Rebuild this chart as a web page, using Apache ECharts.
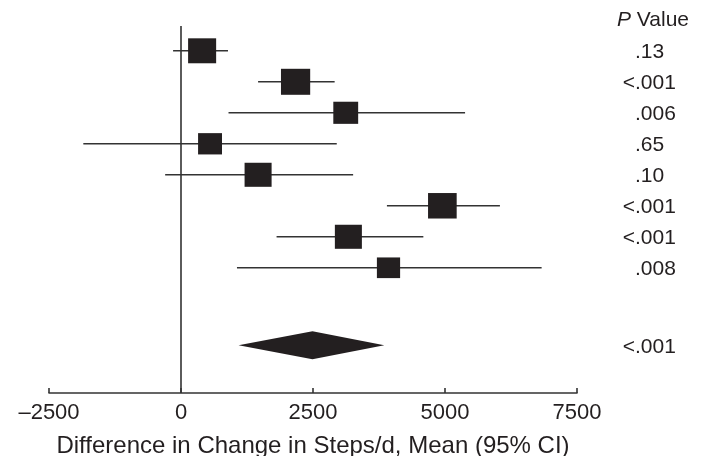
<!DOCTYPE html>
<html><head><meta charset="utf-8">
<script src="https://cdn.jsdelivr.net/npm/echarts@6/dist/echarts.min.js"></script>
<style>html,body{margin:0;padding:0;background:#fff}#c{width:705px;height:456px}</style>
</head><body><div id="c"></div>
<script>
// Study rows (top to bottom)
const rows = [1, 2, 3, 4, 5, 6, 7, 8];
const means = [400, 2170, 3120, 550, 1460, 4950, 3170, 3930];
const lows = [-150, 1460, 900, -1850, -300, 3900, 1810, 1060];
const highs = [890, 2910, 5380, 2950, 3260, 6040, 4590, 6830];
const weights = [70, 76, 55, 51, 65, 73, 65, 48];
const pValues = ['.13', '<.001', '.006', '.65', '.10', '<.001', '<.001', '.008'];
// Pooled estimate
const pooledRow = 10.5;
const pooledMean = 2490;
const pooledLow = 1090;
const pooledHigh = 3850;
const pooledP = '<.001';
// Axis
const xTickLabels = [-2500, 0, 2500, 5000, 7500];

const TXT = '#231f20';
const FONT = '"Liberation Sans", Arial, Helvetica, sans-serif';
const chart = echarts.init(document.getElementById('c'), null, {renderer: 'canvas'});

const pData = rows.map((r, i) => [r, pValues[i]]).concat([[pooledRow, pooledP]]);

chart.setOption({
  animation: false,
  backgroundColor: '#fff',
  title: {
    text: '{i|P} Value',
    left: 612, top: 5,
    textStyle: {
      fontFamily: FONT, fontSize: 21, fontWeight: 'normal', color: TXT,
      rich: { i: { fontFamily: FONT, fontSize: 21, fontStyle: 'italic', color: TXT } }
    }
  },
  grid: { left: 49, right: 128, top: 26, bottom: 63, containLabel: false, outerBoundsMode: 'none' },
  xAxis: {
    type: 'value',
    min: xTickLabels[0], max: xTickLabels[xTickLabels.length - 1], interval: 2500,
    axisLine: { show: true, onZero: false, lineStyle: { color: '#333', width: 1.6 } },
    axisTick: { show: true, inside: true, length: 5, lineStyle: { color: '#333', width: 1.6 } },
    axisLabel: {
      margin: 9, fontFamily: FONT, fontSize: 22, color: TXT,
      formatter: v => (v < 0 ? '\u2013' + Math.abs(v) : String(v))
    },
    splitLine: { show: false },
    name: 'Difference in Change in Steps/d, Mean (95% CI)',
    nameLocation: 'middle', nameGap: 41,
    nameTextStyle: { fontFamily: FONT, fontSize: 24, color: TXT }
  },
  yAxis: {
    type: 'value', inverse: true, min: 0.2, max: 12.04,
    show: false
  },
  series: [
    {
      type: 'custom',
      z: 2,
      encode: { x: [0, 1], y: 2 },
      data: rows.map((r, i) => [lows[i], highs[i], r]),
      renderItem: (params, api) => {
        const a = api.coord([api.value(0), api.value(2)]);
        const b = api.coord([api.value(1), api.value(2)]);
        return { type: 'line', shape: { x1: a[0], y1: a[1], x2: b[0], y2: b[1] },
                 style: { stroke: '#333', lineWidth: 1.6 } };
      },
      silent: true
    },
    {
      type: 'scatter',
      z: 3,
      symbol: 'rect',
      data: rows.map((r, i) => {
        const s = Math.sqrt(weights[i] * 10);
        return { value: [means[i], r], symbolSize: [s * 1.06, s / 1.06] };
      }),
      itemStyle: { color: TXT, opacity: 1 },
      markLine: {
        silent: true, symbol: 'none', label: { show: false },
        lineStyle: { color: '#333', width: 1.6, type: 'solid' },
        data: [{ xAxis: 0 }]
      }
    },
    {
      type: 'custom',
      z: 3,
      encode: { x: [0, 1, 2], y: 3 },
      data: [[pooledLow, pooledMean, pooledHigh, pooledRow]],
      renderItem: (params, api) => {
        const l = api.coord([api.value(0), api.value(3)]);
        const m = api.coord([api.value(1), api.value(3)]);
        const h = api.coord([api.value(2), api.value(3)]);
        const hh = 14;
        return { type: 'polygon',
                 shape: { points: [[l[0], l[1]], [m[0], m[1] - hh], [h[0], h[1]], [m[0], m[1] + hh]] },
                 style: { fill: TXT } };
      },
      silent: true
    },
    {
      type: 'custom',
      z: 4,
      clip: false,
      encode: { y: 0 },
      data: pData,
      renderItem: (params, api) => {
        const row = api.value(0);
        const txt = pData[params.dataIndex][1];
        const y = api.coord([0, row])[1] + 1.5;
        const x = params.coordSys.x + params.coordSys.width + 58;
        const font = '21px ' + FONT;
        const children = [];
        let rest = txt;
        if (txt.charAt(0) === '<') {
          children.push({ type: 'text', style: { text: '<', x: x, y: y, font: font, fill: TXT,
                          textAlign: 'right', textVerticalAlign: 'middle' } });
          rest = txt.slice(1);
        }
        children.push({ type: 'text', style: { text: rest, x: x, y: y, font: font, fill: TXT,
                        textAlign: 'left', textVerticalAlign: 'middle' } });
        return { type: 'group', children: children };
      },
      silent: true
    }
  ]
});
</script>
</body></html>
